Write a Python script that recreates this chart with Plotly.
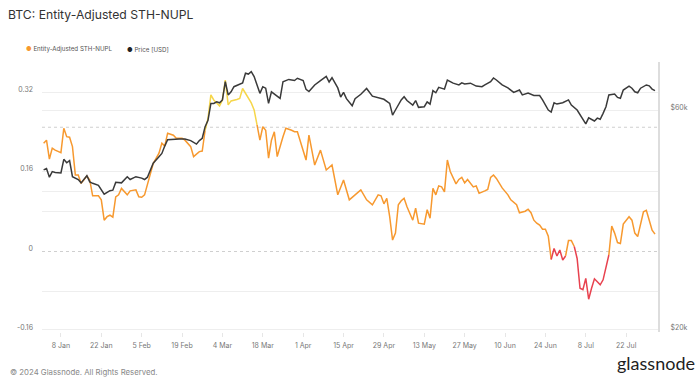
import plotly.graph_objects as go

# ---------------- data ----------------
nupl_dates = [
    "2024-01-02", "2024-01-03", "2024-01-04", "2024-01-05", "2024-01-06", "2024-01-08", "2024-01-09",
    "2024-01-10", "2024-01-11", "2024-01-12", "2024-01-13", "2024-01-14", "2024-01-15", "2024-01-17",
    "2024-01-18", "2024-01-19", "2024-01-21", "2024-01-22", "2024-01-23", "2024-01-24", "2024-01-25",
    "2024-01-26", "2024-01-27", "2024-01-28", "2024-01-29", "2024-01-31", "2024-02-01", "2024-02-03",
    "2024-02-04", "2024-02-05", "2024-02-06", "2024-02-07", "2024-02-09", "2024-02-11", "2024-02-12",
    "2024-02-13", "2024-02-14", "2024-02-16", "2024-02-17", "2024-02-19", "2024-02-20", "2024-02-22",
    "2024-02-23", "2024-02-25", "2024-02-26", "2024-02-27", "2024-02-28", "2024-02-29", "2024-03-01",
    "2024-03-02", "2024-03-03", "2024-03-04", "2024-03-05", "2024-03-06", "2024-03-07", "2024-03-09",
    "2024-03-10", "2024-03-11", "2024-03-12", "2024-03-13", "2024-03-14", "2024-03-15", "2024-03-16",
    "2024-03-17", "2024-03-18", "2024-03-19", "2024-03-20", "2024-03-21", "2024-03-22", "2024-03-23",
    "2024-03-25", "2024-03-26", "2024-03-28", "2024-03-29", "2024-03-30", "2024-04-01", "2024-04-02",
    "2024-04-03", "2024-04-05", "2024-04-07", "2024-04-09", "2024-04-11", "2024-04-13", "2024-04-15",
    "2024-04-17", "2024-04-19", "2024-04-21", "2024-04-23", "2024-04-25", "2024-04-27", "2024-04-28",
    "2024-04-29", "2024-04-30", "2024-05-01", "2024-05-02", "2024-05-03", "2024-05-04", "2024-05-05",
    "2024-05-06", "2024-05-07", "2024-05-09", "2024-05-10", "2024-05-11", "2024-05-13", "2024-05-14",
    "2024-05-15", "2024-05-16", "2024-05-17", "2024-05-18", "2024-05-19", "2024-05-20", "2024-05-21",
    "2024-05-22", "2024-05-24", "2024-05-25", "2024-05-26", "2024-05-27", "2024-05-28", "2024-05-30",
    "2024-05-31", "2024-06-01", "2024-06-03", "2024-06-04", "2024-06-05", "2024-06-06", "2024-06-07",
    "2024-06-09", "2024-06-11", "2024-06-12", "2024-06-14", "2024-06-15", "2024-06-17", "2024-06-18",
    "2024-06-19", "2024-06-20", "2024-06-21", "2024-06-22", "2024-06-23", "2024-06-24", "2024-06-25",
    "2024-06-26", "2024-06-27", "2024-06-28", "2024-06-29", "2024-06-30", "2024-07-01", "2024-07-02",
    "2024-07-03", "2024-07-04", "2024-07-05", "2024-07-06", "2024-07-07", "2024-07-08", "2024-07-09",
    "2024-07-10", "2024-07-11", "2024-07-12", "2024-07-13", "2024-07-14", "2024-07-15", "2024-07-16",
    "2024-07-17", "2024-07-18", "2024-07-19", "2024-07-20", "2024-07-21", "2024-07-23", "2024-07-24",
    "2024-07-25", "2024-07-26", "2024-07-28", "2024-07-29", "2024-07-30", "2024-07-31", "2024-08-01",
]
nupl_values = [
    0.218, 0.224, 0.186, 0.208, 0.204, 0.199, 0.248,
    0.231, 0.230, 0.211, 0.154, 0.154, 0.137, 0.152,
    0.144, 0.112, 0.112, 0.104, 0.063, 0.070, 0.073,
    0.069, 0.110, 0.114, 0.127, 0.114, 0.122, 0.124,
    0.110, 0.109, 0.114, 0.134, 0.177, 0.198, 0.218,
    0.212, 0.238, 0.234, 0.228, 0.228, 0.224, 0.211,
    0.191, 0.201, 0.202, 0.244, 0.268, 0.315, 0.305,
    0.299, 0.293, 0.305, 0.345, 0.295, 0.303, 0.306,
    0.308, 0.328, 0.318, 0.309, 0.299, 0.285, 0.255,
    0.224, 0.251, 0.244, 0.188, 0.224, 0.241, 0.191,
    0.231, 0.248, 0.244, 0.241, 0.241, 0.204, 0.184,
    0.234, 0.174, 0.204, 0.164, 0.174, 0.114, 0.144,
    0.104, 0.114, 0.124, 0.104, 0.094, 0.114, 0.112,
    0.096, 0.107, 0.070, 0.023, 0.037, 0.094, 0.102,
    0.107, 0.090, 0.063, 0.087, 0.057, 0.055, 0.084,
    0.067, 0.127, 0.114, 0.132, 0.130, 0.120, 0.184,
    0.161, 0.136, 0.145, 0.149, 0.138, 0.145, 0.130,
    0.132, 0.117, 0.122, 0.125, 0.149, 0.154, 0.147,
    0.128, 0.114, 0.104, 0.094, 0.078, 0.081, 0.085,
    0.078, 0.063, 0.057, 0.053, 0.045, 0.045, 0.031,
    -0.016, 0.006, -0.009, 0.003, -0.017, -0.009, 0.022,
    0.022, 0.010, -0.014, -0.074, -0.077, -0.054, -0.096,
    -0.074, -0.055, -0.061, -0.067, -0.057, -0.034, -0.007,
    0.051, 0.037, 0.018, 0.016, 0.055, 0.070, 0.063,
    0.037, 0.030, 0.080, 0.083, 0.063, 0.043, 0.035,
]

price_dates = [
    "2024-01-02", "2024-01-03", "2024-01-04", "2024-01-05", "2024-01-06", "2024-01-08", "2024-01-09",
    "2024-01-10", "2024-01-11", "2024-01-12", "2024-01-14", "2024-01-15", "2024-01-17", "2024-01-18",
    "2024-01-19", "2024-01-21", "2024-01-23", "2024-01-25", "2024-01-26", "2024-01-27", "2024-01-29",
    "2024-01-31", "2024-02-01", "2024-02-03", "2024-02-05", "2024-02-06", "2024-02-07", "2024-02-09",
    "2024-02-11", "2024-02-12", "2024-02-13", "2024-02-14", "2024-02-18", "2024-02-20", "2024-02-22",
    "2024-02-24", "2024-02-25", "2024-02-26", "2024-02-27", "2024-02-28", "2024-02-29", "2024-03-01",
    "2024-03-02", "2024-03-03", "2024-03-04", "2024-03-05", "2024-03-06", "2024-03-07", "2024-03-08",
    "2024-03-10", "2024-03-11", "2024-03-12", "2024-03-13", "2024-03-14", "2024-03-15", "2024-03-17",
    "2024-03-18", "2024-03-19", "2024-03-20", "2024-03-21", "2024-03-22", "2024-03-24", "2024-03-25",
    "2024-03-27", "2024-03-29", "2024-03-30", "2024-04-01", "2024-04-02", "2024-04-03", "2024-04-05",
    "2024-04-07", "2024-04-09", "2024-04-10", "2024-04-11", "2024-04-13", "2024-04-14", "2024-04-15",
    "2024-04-16", "2024-04-18", "2024-04-19", "2024-04-21", "2024-04-23", "2024-04-25", "2024-04-27",
    "2024-04-29", "2024-05-01", "2024-05-02", "2024-05-03", "2024-05-05", "2024-05-06", "2024-05-07",
    "2024-05-09", "2024-05-10", "2024-05-11", "2024-05-13", "2024-05-14", "2024-05-15", "2024-05-16",
    "2024-05-17", "2024-05-18", "2024-05-20", "2024-05-21", "2024-05-23", "2024-05-25", "2024-05-26",
    "2024-05-27", "2024-05-29", "2024-05-31", "2024-06-02", "2024-06-03", "2024-06-05", "2024-06-06",
    "2024-06-07", "2024-06-09", "2024-06-11", "2024-06-13", "2024-06-15", "2024-06-16", "2024-06-18",
    "2024-06-20", "2024-06-22", "2024-06-23", "2024-06-25", "2024-06-26", "2024-06-27", "2024-06-28",
    "2024-06-30", "2024-07-02", "2024-07-03", "2024-07-05", "2024-07-07", "2024-07-08", "2024-07-09",
    "2024-07-11", "2024-07-12", "2024-07-13", "2024-07-14", "2024-07-15", "2024-07-16", "2024-07-18",
    "2024-07-19", "2024-07-20", "2024-07-21", "2024-07-23", "2024-07-24", "2024-07-25", "2024-07-26",
    "2024-07-27", "2024-07-29", "2024-07-30", "2024-07-31", "2024-08-01",
]
price_values = [
    44500, 44800, 42900, 44100, 43900, 43800, 46900,
    46100, 46600, 43000, 42400, 41700, 43200, 41900,
    41600, 41200, 39400, 40100, 40200, 41800, 41700,
    43000, 42400, 43000, 42700, 42400, 42900, 46000,
    47500, 48300, 50100, 51700, 51900, 51900, 51500,
    50600, 51500, 52100, 55200, 57000, 62000, 62000,
    62500, 62200, 63100, 69100, 64700, 65700, 67400,
    68300, 68700, 72100, 71800, 72700, 70900, 65200,
    67400, 66900, 62000, 65700, 65000, 63600, 69100,
    69900, 69500, 70300, 69500, 66500, 65800, 68000,
    69500, 71000, 69000, 70500, 67000, 64000, 65500,
    63500, 61300, 63500, 64900, 66800, 64300, 63900,
    63300, 62000, 58500, 60000, 63100, 64100, 62900,
    61500, 62900, 60800, 61000, 62500, 61800, 66100,
    65400, 67200, 66600, 69700, 68600, 68000, 68700,
    68300, 68600, 67600, 67400, 68000, 69100, 70400,
    69700, 68000, 67000, 65500, 66300, 64700, 65300,
    64500, 64500, 63100, 60000, 59400, 62200, 61800,
    62200, 63100, 61500, 60000, 57100, 56000, 57700,
    56800, 57600, 57300, 59000, 61000, 64700, 65000,
    63900, 63600, 66300, 67600, 66900, 65700, 65400,
    66900, 68000, 67700, 66600, 66100,
]

x_range = ["2024-01-01 10:30", "2024-08-02 01:00"]
nupl_range = [-0.162, 0.3813]
price_log_range = [4.29663, 4.88226]
nupl_grid = [-0.16, -0.08, 0.08, 0.16, 0.32]
nupl_tickvals = [-0.16, 0, 0.16, 0.32]
nupl_ticktext = ["-0.16", "0", "0.16", "0.32"]
nupl_dashed = [0.0, 0.25]
price_tickvals = [20000, 40000, 60000]
price_ticktext = ["$20k", "", "$60k"]

ORANGE = "#f7992f"
YELLOW = "#f6d64a"
RED = "#e8424f"
BLACK = "#3a3a3a"
FONT = "Inter, 'Noto Sans', sans-serif"

W, H = 700, 384
ML, MR, MT, MB = 42, 39, 62, 52
PW, PH = W - ML - MR, H - MT - MB


def px(x):
    return (x - ML) / PW


def py(y):
    return (H - MB - y) / PH


def zone(v):
    if v < 0:
        return RED
    if v < 0.25:
        return ORANGE
    return YELLOW


segs = {ORANGE: ([], []), YELLOW: ([], []), RED: ([], [])}
last = {ORANGE: None, YELLOW: None, RED: None}
for i in range(len(nupl_dates) - 1):
    c = zone((nupl_values[i] + nupl_values[i + 1]) / 2)
    xs, ys = segs[c]
    if last[c] == i:
        xs.append(nupl_dates[i + 1]); ys.append(nupl_values[i + 1])
    else:
        if xs:
            xs.append(None); ys.append(None)
        xs += [nupl_dates[i], nupl_dates[i + 1]]
        ys += [nupl_values[i], nupl_values[i + 1]]
    last[c] = i + 1

fig = go.Figure()
for c in (ORANGE, YELLOW, RED):
    xs, ys = segs[c]
    fig.add_trace(go.Scatter(x=xs, y=ys, mode="lines", line=dict(color=c, width=1.5),
                             connectgaps=False, showlegend=False, hoverinfo="skip"))

fig.add_trace(go.Scatter(x=price_dates, y=price_values, mode="lines", yaxis="y2",
                         line=dict(color=BLACK, width=1.5), showlegend=False))

shapes = []
for v in nupl_dashed:
    shapes.append(dict(type="line", xref="paper", x0=0, x1=1, yref="y", y0=v, y1=v,
                       line=dict(color="#cfcfcf", width=1, dash="dot"), layer="below"))

annotations = [
    dict(text="<span style='color:%s'>●</span> Entity-Adjusted STH-NUPL" % ORANGE,
         x=px(24), y=py(49), xref="paper", yref="paper", xanchor="left", yanchor="middle",
         showarrow=False, font=dict(size=6.2, color="#555", family=FONT)),
    dict(text="<span style='color:#222'>●</span> Price [USD]",
         x=px(125), y=py(49), xref="paper", yref="paper", xanchor="left", yanchor="middle",
         showarrow=False, font=dict(size=6.2, color="#555", family=FONT)),
    dict(text="© 2024 Glassnode. All Rights Reserved.",
         x=px(8), y=py(372), xref="paper", yref="paper", xanchor="left", yanchor="middle",
         showarrow=False, font=dict(size=7.8, color="#888", family=FONT)),
    dict(text="glassnode",
         x=px(700), y=py(363), xref="paper", yref="paper", xanchor="right", yanchor="middle",
         showarrow=False, font=dict(size=18, color="#1e1e1e", family="Lato, Inter, sans-serif")),
]

fig.update_layout(
    width=W, height=H,
    margin=dict(l=ML, r=MR, t=MT, b=MB),
    paper_bgcolor="white", plot_bgcolor="white",
    font=dict(family=FONT, size=7, color="#777"),
    title=dict(text="BTC: Entity-Adjusted STH-NUPL", x=8 / W, xref="container", xanchor="left",
               y=1 - 15 / H, yref="container", yanchor="middle",
               font=dict(size=12.2, color="#333", family=FONT)),
    showlegend=False,
    xaxis=dict(type="date", range=x_range, tick0="2024-01-08", dtick=14 * 86400000,
               tickformat="%-d %b", showgrid=False, zeroline=False, showline=False,
               ticks="outside", ticklen=4, tickcolor="#e6e6e6", ticklabelstandoff=3,
               tickfont=dict(size=7, color="#777")),
    yaxis=dict(range=nupl_range, tickvals=nupl_tickvals, ticktext=nupl_ticktext,
               showgrid=False, zeroline=False, showline=False, ticks="",
               ticklabelstandoff=8, ticklabelshift=-3,
               tickfont=dict(size=7, color="#777")),
    yaxis2=dict(type="log", range=price_log_range, overlaying="y", side="right",
                tickvals=price_tickvals, ticktext=price_ticktext,
                showgrid=True, gridcolor="#eeeeee", zeroline=False,
                showline=True, linecolor="#dddddd", linewidth=2,
                ticks="", ticklabelstandoff=9, ticklabelshift=-2,
                tickfont=dict(size=7, color="#777")),
    shapes=shapes,
    annotations=annotations,
)
fig.update_yaxes(minor=dict(tickvals=nupl_grid, showgrid=True, gridcolor="#eeeeee",
                            gridwidth=1, ticks=""), selector=dict(side="left"))
fig.layout.yaxis.minor = dict(tickvals=nupl_grid, showgrid=True, gridcolor="#eeeeee",
                              gridwidth=1, ticks="")

fig.write_html("out.html", config={"displayModeBar": False}, post_script=[
    "document.documentElement.style.margin='0';document.body.style.margin='0';"
    "document.body.style.padding='0';document.body.style.overflow='hidden';"
])
